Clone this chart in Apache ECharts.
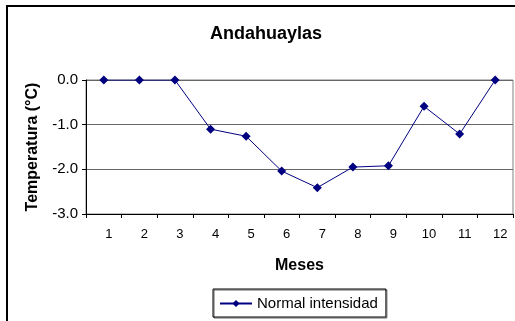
<!DOCTYPE html>
<html>
<head>
<meta charset="utf-8">
<script src="https://cdn.jsdelivr.net/npm/echarts@6/dist/echarts.min.js"></script>
<style>
  html, body { margin: 0; padding: 0; background: #fff; }
  #chart { width: 515px; height: 321px; }
</style>
</head>
<body>
<div id="chart"></div>
<script>
const months = ['1', '2', '3', '4', '5', '6', '7', '8', '9', '10', '11', '12'];
const normalIntensidad = [0, 0, 0, -1.1, -1.26, -2.04, -2.41, -1.95, -1.92, -0.59, -1.21, 0];
const yTicks = [0, -1, -2, -3];

const chart = echarts.init(document.getElementById('chart'));

chart.setOption({
  animation: false,
  textStyle: { fontFamily: 'Liberation Sans, Arial, sans-serif' },
  title: {
    text: 'Andahuaylas',
    left: 205,
    top: 20,
    textStyle: { fontSize: 18, fontWeight: 'bold', color: '#000' }
  },
  graphic: [
    {
      type: 'rect',
      shape: { x: 7, y: 6, width: 530, height: 340 },
      style: { fill: 'none', stroke: '#000', lineWidth: 2 },
      silent: true
    }
  ],
  legend: {
    left: 213,
    top: 289,
    width: 170,
    height: 29,
    padding: [7, 8, 6, 6],
    itemWidth: 32,
    itemHeight: 9,
    itemGap: 4,
    borderColor: '#000',
    borderWidth: 1,
    shadowColor: 'rgba(0,0,0,0.6)',
    shadowOffsetX: 1,
    shadowOffsetY: 1,
    textStyle: { fontSize: 15, color: '#000' },
    data: ['Normal intensidad']
  },
  grid: {
    left: 86,
    right: 2,
    top: 80,
    bottom: 107,
    show: true,
    borderColor: '#808080',
    borderWidth: 1
  },
  xAxis: {
    type: 'category',
    data: months,
    boundaryGap: true,
    name: 'Meses',
    nameLocation: 'middle',
    nameGap: 44,
    nameTextStyle: { fontSize: 16, fontWeight: 'bold', color: '#000' },
    axisLine: { show: true, onZero: false, lineStyle: { color: '#000', width: 1 } },
    axisTick: { show: true, alignWithLabel: false, length: 4, lineStyle: { color: '#000' } },
    axisLabel: { fontSize: 13, color: '#000', margin: 14, padding: [0, 0, 0, 10] },
    splitLine: { show: false }
  },
  yAxis: {
    type: 'value',
    min: -3,
    max: 0,
    interval: 1,
    name: 'Temperatura (°C)',
    nameLocation: 'middle',
    nameGap: 45,
    nameTextStyle: { fontSize: 16, fontWeight: 'bold', color: '#000' },
    axisLine: { show: true, lineStyle: { color: '#000', width: 1 } },
    axisTick: { show: true, length: 4, lineStyle: { color: '#000' } },
    axisLabel: {
      fontSize: 15,
      color: '#000',
      margin: 8,
      formatter: (v) => (yTicks.includes(v) ? v.toFixed(1) : '')
    },
    splitLine: { show: true, lineStyle: { color: '#666', width: 1 } }
  },
  series: [
    {
      name: 'Normal intensidad',
      type: 'line',
      data: normalIntensidad,
      symbol: 'diamond',
      symbolSize: 9,
      showSymbol: true,
      itemStyle: { color: '#000080' },
      lineStyle: { color: '#000080', width: 1 }
    }
  ]
});
</script>
</body>
</html>
